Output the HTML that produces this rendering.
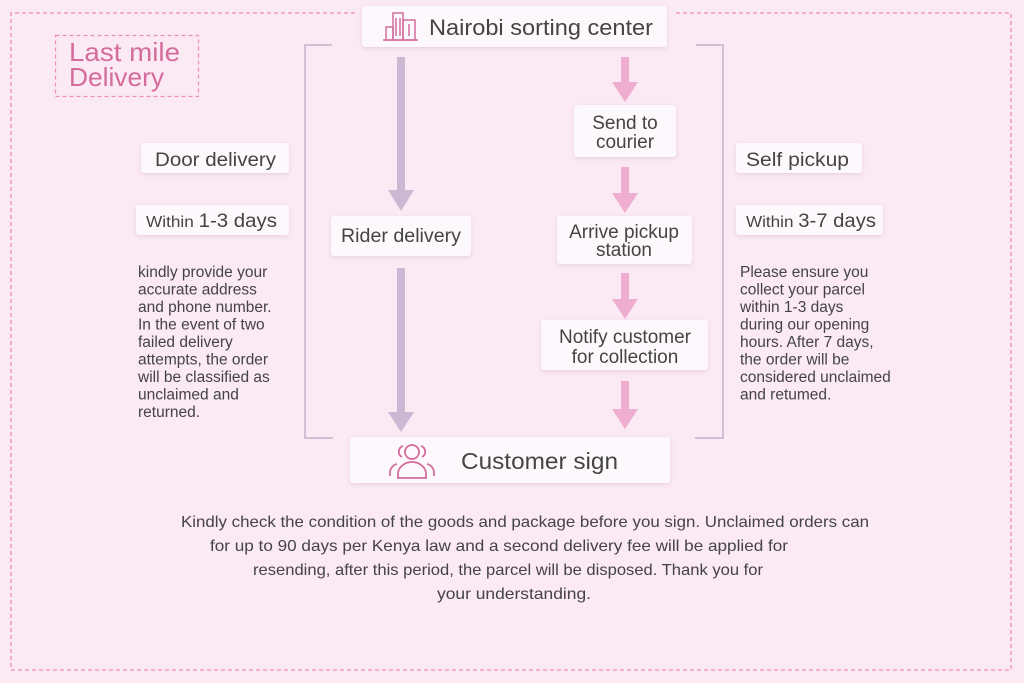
<!DOCTYPE html>
<html><head><meta charset="utf-8"><style>
html,body{margin:0;padding:0;background:#fbe9f3;}
svg{display:block;font-family:"Liberation Sans",sans-serif;}
</style></head><body>
<svg width="1024" height="683" viewBox="0 0 1024 683" xmlns="http://www.w3.org/2000/svg">
<defs>
<filter id="sh" x="-10%" y="-20%" width="120%" height="150%"><feDropShadow dx="0" dy="1.5" stdDeviation="2" flood-color="#b08aa0" flood-opacity="0.25"/></filter>
</defs>
<rect width="1024" height="683" fill="#fbe9f3"/>
<path d="M355 13 H11 V670 H1011 V13 H675" fill="none" stroke="#ec8fb9" stroke-width="1.3" stroke-dasharray="4 3"/>
<rect x="55.5" y="35.5" width="143" height="61" fill="none" stroke="#ec8fb9" stroke-width="1.2" stroke-dasharray="4 3"/>
<text x="69" y="61" font-size="26" fill="#d46c9c" textLength="111" lengthAdjust="spacingAndGlyphs">Last mile</text>
<text x="69" y="86" font-size="26" fill="#d46c9c" textLength="95" lengthAdjust="spacingAndGlyphs">Delivery</text>
<path d="M332 45 H305 V438 H333" fill="none" stroke="#c7b3cc" stroke-width="1.5"/>
<path d="M696 45 H723 V438 H695" fill="none" stroke="#c7b3cc" stroke-width="1.5"/>
<g fill="#cdb8d4">
<rect x="397" y="57" width="8" height="135"/><polygon points="388,190 414,190 401,211"/>
<rect x="397" y="268" width="8" height="146"/><polygon points="388,412 414,412 401,432"/>
</g>
<g fill="#efaed0">
<rect x="621" y="57" width="8" height="26"/><polygon points="612,82 638,82 625,102"/>
<rect x="621" y="167" width="8" height="27"/><polygon points="612,193 638,193 625,213"/>
<rect x="621" y="273" width="8" height="27"/><polygon points="612,299 638,299 625,319"/>
<rect x="621" y="381" width="8" height="29"/><polygon points="612,409 638,409 625,429"/>
</g>
<g fill="#fdf8fb" filter="url(#sh)">
<rect x="362" y="6" width="305" height="41" rx="3"/>
<rect x="141" y="143" width="148" height="30" rx="3"/>
<rect x="136" y="205" width="153" height="30" rx="3"/>
<rect x="331" y="216" width="140" height="40" rx="3"/>
<rect x="574" y="105" width="102" height="52" rx="3"/>
<rect x="557" y="216" width="135" height="48" rx="3"/>
<rect x="541" y="320" width="167" height="50" rx="3"/>
<rect x="350" y="437" width="320" height="46" rx="3"/>
<rect x="736" y="143" width="126" height="30" rx="3"/>
<rect x="736" y="205" width="147" height="30" rx="3"/>
</g>
<g fill="none" stroke="#d46c9c" stroke-width="1.5">
<path d="M383 40 H418"/>
<rect x="386" y="27" width="7" height="13"/>
<rect x="393" y="13" width="10" height="27"/>
<rect x="403" y="20" width="12" height="20"/>
<path d="M396 18v18M400 18v18M409 24v12"/>
</g>
<g fill="#444">
<text x="429" y="35" font-size="22" textLength="224" lengthAdjust="spacingAndGlyphs">Nairobi sorting center</text>
<text x="155" y="166" font-size="19" textLength="121" lengthAdjust="spacingAndGlyphs">Door delivery</text>
<text x="146" y="227" font-size="16" textLength="131" lengthAdjust="spacingAndGlyphs">Within <tspan font-size="19">1-3 days</tspan></text>
<text x="341" y="242" font-size="19" textLength="120" lengthAdjust="spacingAndGlyphs">Rider delivery</text>
<text x="625" y="129" font-size="19" text-anchor="middle">Send to</text>
<text x="625" y="148" font-size="19" text-anchor="middle">courier</text>
<text x="624" y="238" font-size="19" text-anchor="middle">Arrive pickup</text>
<text x="624" y="256" font-size="19" text-anchor="middle">station</text>
<text x="625" y="343" font-size="19" text-anchor="middle">Notify customer</text>
<text x="625" y="363" font-size="19" text-anchor="middle">for collection</text>
<text x="746" y="166" font-size="19" textLength="103" lengthAdjust="spacingAndGlyphs">Self pickup</text>
<text x="746" y="227" font-size="16" textLength="130" lengthAdjust="spacingAndGlyphs">Within <tspan font-size="19">3-7 days</tspan></text>
<text x="461" y="469" font-size="23" textLength="157" lengthAdjust="spacingAndGlyphs">Customer sign</text>
</g>
<g fill="none" stroke="#d46c9c" stroke-width="1.8">
<circle cx="412" cy="452" r="7"/>
<path d="M398 478 v-4 a14 12 0 0 1 28 0 v4 z"/>
<path d="M403 446 a6 6 0 0 0 -1 11 M390 476 v-3 a9 9 0 0 1 7 -9"/>
<path d="M421 446 a6 6 0 0 1 1 11 M434 476 v-3 a9 9 0 0 0 -7 -9"/>
</g>
<g fill="#444" font-size="15.5">
<text x="138" y="277">kindly provide your</text>
<text x="138" y="294.5">accurate address</text>
<text x="138" y="312">and phone number.</text>
<text x="138" y="329.5">In the event of two</text>
<text x="138" y="347">failed delivery</text>
<text x="138" y="364.5">attempts, the order</text>
<text x="138" y="382">will be classified as</text>
<text x="138" y="399.5">unclaimed and</text>
<text x="138" y="417">returned.</text>
<text x="740" y="277">Please ensure you</text>
<text x="740" y="294.5">collect your parcel</text>
<text x="740" y="312">within 1-3 days</text>
<text x="740" y="329.5">during our opening</text>
<text x="740" y="347">hours. After 7 days,</text>
<text x="740" y="364.5">the order will be</text>
<text x="740" y="382">considered unclaimed</text>
<text x="740" y="399.5">and retumed.</text>
</g>
<g fill="#444" font-size="16">
<text x="181" y="527" textLength="688" lengthAdjust="spacingAndGlyphs">Kindly check the condition of the goods and package before you sign. Unclaimed orders can</text>
<text x="210" y="551" textLength="578" lengthAdjust="spacingAndGlyphs">for up to 90 days per Kenya law and a second delivery fee will be applied for</text>
<text x="253" y="575" textLength="510" lengthAdjust="spacingAndGlyphs">resending, after this period, the parcel will be disposed. Thank you for</text>
<text x="437" y="599" textLength="154" lengthAdjust="spacingAndGlyphs">your understanding.</text>
</g>
</svg>
</body></html>
